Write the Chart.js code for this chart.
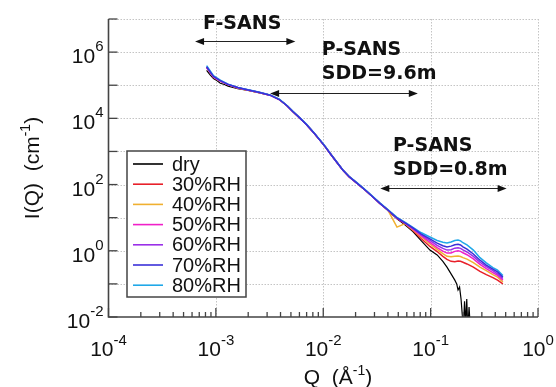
<!DOCTYPE html>
<html>
<head>
<meta charset="utf-8">
<script src="https://cdn.jsdelivr.net/npm/chart.js@4.4.0/dist/chart.umd.min.js"></script>
<style>
  html, body { margin: 0; padding: 0; background: #fff; }
</style>
</head>
<body>
<canvas id="sansChart" width="556" height="387"></canvas>
<script>
// Q values (1/A) shared by the humidified samples
const q = [0.00082, 0.00095, 0.0011, 0.0013, 0.0016, 0.002, 0.0025, 0.0032, 0.0039, 0.0046,
  0.0052, 0.006, 0.007, 0.0082, 0.0093, 0.0105, 0.0115, 0.013, 0.0152, 0.0175,
  0.0206, 0.025, 0.029, 0.0337, 0.04, 0.0486, 0.058, 0.0684, 0.082, 0.0985,
  0.115, 0.13, 0.142, 0.155, 0.168, 0.18, 0.19, 0.2, 0.218, 0.25,
  0.288, 0.33, 0.38, 0.42, 0.471];

const i30 = [3.4e5, 1.75e5, 1.33e5, 1.04e5, 8.3e4, 7.1e4, 6.0e4, 5.0e4, 3.7e4, 2.4e4,
  1.6e4, 1.05e4, 6.4e3, 3.6e3, 2.2e3, 1.35e3, 900, 530, 275, 170,
  110, 65, 42, 27, 17, 9.5, 6.5, 4.1, 2.3, 1.35,
  0.95, 0.68, 0.55, 0.48, 0.47, 0.49, 0.48, 0.45, 0.4, 0.32,
  0.24, 0.19, 0.155, 0.13, 0.1];
const i40 = [3.4e5, 1.75e5, 1.33e5, 1.04e5, 8.3e4, 7.1e4, 6.0e4, 5.0e4, 3.7e4, 2.4e4,
  1.6e4, 1.05e4, 6.4e3, 3.6e3, 2.2e3, 1.35e3, 900, 530, 275, 170,
  110, 65, 42, 27, 17, 5.2, 6.6, 4.3, 2.6, 1.6,
  1.1, 0.82, 0.68, 0.66, 0.68, 0.7, 0.67, 0.62, 0.56, 0.44,
  0.32, 0.25, 0.19, 0.16, 0.115];
const i50 = [3.45e5, 1.78e5, 1.34e5, 1.04e5, 8.4e4, 7.2e4, 6.1e4, 5.0e4, 3.7e4, 2.4e4,
  1.6e4, 1.05e4, 6.4e3, 3.6e3, 2.2e3, 1.35e3, 900, 530, 275, 170,
  110, 65, 42, 27, 17, 9.7, 6.7, 4.5, 2.8, 1.8,
  1.25, 0.98, 0.85, 0.86, 0.96, 1.0, 0.96, 0.87, 0.76, 0.57,
  0.39, 0.29, 0.22, 0.18, 0.13];
const i60 = [3.5e5, 1.8e5, 1.35e5, 1.05e5, 8.4e4, 7.2e4, 6.1e4, 5.0e4, 3.7e4, 2.4e4,
  1.6e4, 1.05e4, 6.4e3, 3.6e3, 2.2e3, 1.35e3, 900, 530, 275, 170,
  110, 65, 42, 27, 17, 9.8, 6.8, 4.7, 3.0, 2.05,
  1.45, 1.18, 1.05, 1.08, 1.2, 1.24, 1.18, 1.06, 0.92, 0.68,
  0.45, 0.33, 0.25, 0.2, 0.145];
const i70 = [3.6e5, 1.85e5, 1.37e5, 1.06e5, 8.5e4, 7.2e4, 6.1e4, 5.0e4, 3.7e4, 2.4e4,
  1.6e4, 1.05e4, 6.4e3, 3.6e3, 2.2e3, 1.35e3, 900, 530, 275, 170,
  110, 65, 42, 27, 17, 9.8, 6.9, 4.9, 3.2, 2.3,
  1.7, 1.42, 1.3, 1.38, 1.52, 1.57, 1.5, 1.32, 1.12, 0.8,
  0.52, 0.37, 0.28, 0.23, 0.16];
const i80 = [3.9e5, 1.95e5, 1.42e5, 1.08e5, 8.6e4, 7.3e4, 6.2e4, 5.1e4, 3.8e4, 2.45e4,
  1.65e4, 1.08e4, 6.6e3, 3.7e3, 2.25e3, 1.38e3, 920, 545, 282, 175,
  114, 67, 43.5, 28, 17.6, 10.2, 7.2, 5.1, 3.5, 2.6,
  2.05, 1.8, 1.72, 1.85, 2.05, 2.12, 2.0, 1.75, 1.5, 1.05,
  0.62, 0.43, 0.31, 0.26, 0.18];

// dry sample has its own Q grid (noisy tail at high Q)
const qDry = [0.00082, 0.00088, 0.00095, 0.001, 0.0011, 0.0012, 0.0013, 0.0016, 0.002, 0.0025,
  0.0032, 0.0039, 0.0046, 0.0052, 0.006, 0.007, 0.0082, 0.0093, 0.0105, 0.0115,
  0.013, 0.0152, 0.0175, 0.0206, 0.025, 0.029, 0.0337, 0.04, 0.0486, 0.058,
  0.0684, 0.082, 0.0985, 0.115, 0.13, 0.142, 0.155, 0.168, 0.175, 0.18,
  0.186, 0.192, 0.197, 0.202, 0.207, 0.212, 0.217, 0.222, 0.228, 0.234];
const iDry = [2.8e5, 2.1e5, 1.6e5, 1.45e5, 1.15e5, 1.05e5, 9.4e4, 7.9e4, 7.0e4, 6.0e4,
  5.0e4, 3.7e4, 2.4e4, 1.6e4, 1.05e4, 6.4e3, 3.6e3, 2.2e3, 1.35e3, 900,
  530, 275, 170, 110, 65, 42, 27, 16.5, 9.3, 6.0,
  3.8, 2.0, 1.05, 0.75, 0.48, 0.32, 0.2, 0.13, 0.1, 0.065,
  0.08, 0.035, 0.012, 0.005, 0.03, 0.006, 0.035, 0.004, 0.02, 0.005];

const seriesLabels = ['dry', '30%RH', '40%RH', '50%RH', '60%RH', '70%RH', '80%RH'];
const seriesColors = ['#000000', '#e8202a', '#f0b030', '#f020c8', '#9a30e8', '#3a30d8', '#20a8e8'];

// decade exponents for axes
const xDecades = [-4, -3, -2, -1, 0];
const yDecades = [-2, -1, 0, 1, 2, 3, 4, 5, 6, 7];
const yLabelled = [-2, 0, 2, 4, 6];

// measurement ranges: Q from/to, drawn at intensity level
const ranges = [
  { lines: ['F-SANS'], textQ: 7.6e-4, textI: [5.0e6], from: 6.4e-4, to: 5.5e-3, at: 2.1e6 },
  { lines: ['P-SANS', 'SDD=9.6m'], textQ: 9.7e-3, textI: [8.2e5, 1.55e5], from: 3.2e-3, to: 0.076, at: 5.9e4 },
  { lines: ['P-SANS', 'SDD=0.8m'], textQ: 0.0446, textI: [1035, 195], from: 0.034, to: 0.51, at: 79 }
];

const FONT = '"Liberation Sans", Arial, sans-serif';
const AXIS = '#444444';

const pts = (xs, ys) => xs.map((x, k) => ({ x: x, y: ys[k] }));
const seriesData = [pts(qDry, iDry), pts(q, i30), pts(q, i40), pts(q, i50), pts(q, i60), pts(q, i70), pts(q, i80)];
const drawOrder = [7, 6, 5, 4, 3, 1, 2];

const xTickVals = [];
xDecades.forEach(e => {
  for (let m = 1; m <= 9; m++) {
    if (e === 0 && m > 1) break;
    xTickVals.push(m * Math.pow(10, e));
  }
});

function isDecade(v) {
  const l = Math.log10(v);
  return Math.abs(l - Math.round(l)) < 1e-6;
}

// draw text pieces with superscripts
function richText(ctx, parts, x, y, align, size, supSize, rise) {
  let total = 0;
  parts.forEach(p => {
    ctx.font = (p.sup ? supSize : size) + 'px ' + FONT;
    p.w = ctx.measureText(p.t).width;
    total += p.w;
  });
  let cx = align === 'right' ? x - total : (align === 'center' ? x - total / 2 : x);
  ctx.textAlign = 'left';
  ctx.textBaseline = 'alphabetic';
  parts.forEach(p => {
    ctx.font = (p.sup ? supSize : size) + 'px ' + FONT;
    ctx.fillText(p.t, cx, p.sup ? y - rise : y);
    cx += p.w;
  });
}

function arrowHead(ctx, x, y, dir) {
  ctx.beginPath();
  ctx.moveTo(x, y);
  ctx.lineTo(x - dir * 9, y - 3.5);
  ctx.lineTo(x - dir * 9, y + 3.5);
  ctx.closePath();
  ctx.fill();
}

const decor = {
  id: 'decor',
  beforeDatasetsDraw(chart) {
    const { ctx, chartArea: a, scales: { x, y } } = chart;
    ctx.save();
    ctx.strokeStyle = '#c4c4c4';
    ctx.lineWidth = 1;
    ctx.setLineDash([1.5, 1.5]);
    xDecades.slice(1).forEach(e => {
      const px = Math.round(x.getPixelForValue(Math.pow(10, e))) + 0.5;
      ctx.beginPath(); ctx.moveTo(px, a.top); ctx.lineTo(px, a.bottom); ctx.stroke();
    });
    yDecades.slice(1).forEach(e => {
      const py = Math.round(y.getPixelForValue(Math.pow(10, e))) + 0.5;
      ctx.beginPath(); ctx.moveTo(a.left, py); ctx.lineTo(a.right, py); ctx.stroke();
    });
    ctx.restore();
  },
  afterDraw(chart) {
    const { ctx, chartArea: a, scales: { x, y } } = chart;
    ctx.save();
    // axis lines
    ctx.strokeStyle = AXIS;
    ctx.lineWidth = 1.6;
    ctx.beginPath();
    ctx.moveTo(a.left, a.top); ctx.lineTo(a.left, a.bottom); ctx.lineTo(a.right, a.bottom);
    ctx.stroke();
    // inward tick marks
    ctx.lineWidth = 1.3;
    x.ticks.forEach(t => {
      const px = x.getPixelForValue(t.value);
      const len = isDecade(t.value) ? 9 : 5;
      ctx.beginPath(); ctx.moveTo(px, a.bottom); ctx.lineTo(px, a.bottom - len); ctx.stroke();
    });
    y.ticks.forEach(t => {
      const py = y.getPixelForValue(t.value);
      ctx.beginPath(); ctx.moveTo(a.left, py); ctx.lineTo(a.left + 9, py); ctx.stroke();
    });
    // tick labels
    ctx.fillStyle = '#111';
    xDecades.forEach(e => {
      const px = x.getPixelForValue(Math.pow(10, e));
      richText(ctx, [{ t: '10' }, { t: String(e), sup: true }], px, a.bottom + 39, 'center', 21, 15, 11.5);
    });
    yLabelled.forEach(e => {
      const py = y.getPixelForValue(Math.pow(10, e));
      richText(ctx, [{ t: '10' }, { t: String(e), sup: true }], a.left - 5, py + 11, 'right', 21, 15, 12);
    });
    // axis titles
    richText(ctx, [{ t: 'Q  (Å' }, { t: '-1', sup: true }, { t: ')' }], 338, 384, 'center', 21, 14, 9);
    ctx.save();
    ctx.translate(39, (a.top + a.bottom) / 2);
    ctx.rotate(-Math.PI / 2);
    richText(ctx, [{ t: 'I(Q)  (cm' }, { t: '-1', sup: true }, { t: ')' }], 0, 0, 'center', 21, 14, 9);
    ctx.restore();
    // range arrows and labels
    ctx.fillStyle = '#111';
    ctx.strokeStyle = '#222';
    ctx.lineWidth = 1;
    ranges.forEach(r => {
      const x1 = x.getPixelForValue(r.from), x2 = x.getPixelForValue(r.to);
      const py = Math.round(y.getPixelForValue(r.at)) + 0.5;
      ctx.beginPath(); ctx.moveTo(x1 + 4, py); ctx.lineTo(x2 - 4, py); ctx.stroke();
      arrowHead(ctx, x1, py, -1);
      arrowHead(ctx, x2, py, 1);
      ctx.font = 'bold 19px "DejaVu Sans", Verdana, sans-serif';
      ctx.textAlign = 'left';
      ctx.textBaseline = 'alphabetic';
      const tx = x.getPixelForValue(r.textQ);
      r.lines.forEach((s, k) => ctx.fillText(s, tx, y.getPixelForValue(r.textI[k])));
    });
    // legend box
    const bx = 127, by = 151, bw = 119, bh = 146;
    ctx.fillStyle = '#fff';
    ctx.fillRect(bx, by, bw, bh);
    ctx.strokeStyle = AXIS;
    ctx.lineWidth = 1.5;
    ctx.strokeRect(bx, by, bw, bh);
    ctx.font = '20px ' + FONT;
    ctx.textBaseline = 'middle';
    chart.data.datasets.forEach((ds, k) => {
      const ly = by + 13 + k * 20.2;
      ctx.strokeStyle = ds.borderColor;
      ctx.lineWidth = 1.6;
      ctx.beginPath(); ctx.moveTo(bx + 6, ly); ctx.lineTo(bx + 36, ly); ctx.stroke();
      ctx.fillStyle = '#111';
      ctx.fillText(ds.label, bx + 45, ly + 1);
    });
    ctx.restore();
  }
};

new Chart(document.getElementById('sansChart'), {
  type: 'line',
  data: {
    datasets: seriesLabels.map((label, k) => ({
      label: label,
      data: seriesData[k],
      borderColor: seriesColors[k],
      borderWidth: k === 0 ? 1.2 : 1.5,
      pointRadius: 0,
      tension: 0,
      fill: false,
      order: drawOrder[k]
    }))
  },
  options: {
    responsive: false,
    animation: false,
    events: [],
    layout: { padding: { top: 19, right: 18, left: 0, bottom: 0 } },
    plugins: { legend: { display: false }, tooltip: { enabled: false } },
    scales: {
      x: {
        type: 'logarithmic',
        min: 1e-4,
        max: 1,
        afterBuildTicks: s => { s.ticks = xTickVals.map(v => ({ value: v })); },
        afterFit: s => { s.height = 70; },
        grid: { display: false },
        ticks: { display: false },
        border: { display: false }
      },
      y: {
        type: 'logarithmic',
        min: 1e-2,
        max: 1e7,
        afterBuildTicks: s => { s.ticks = yDecades.map(e => ({ value: Math.pow(10, e) })); },
        afterFit: s => { s.width = 108.5; },
        grid: { display: false },
        ticks: { display: false },
        border: { display: false }
      }
    }
  },
  plugins: [decor]
});
</script>
</body>
</html>
